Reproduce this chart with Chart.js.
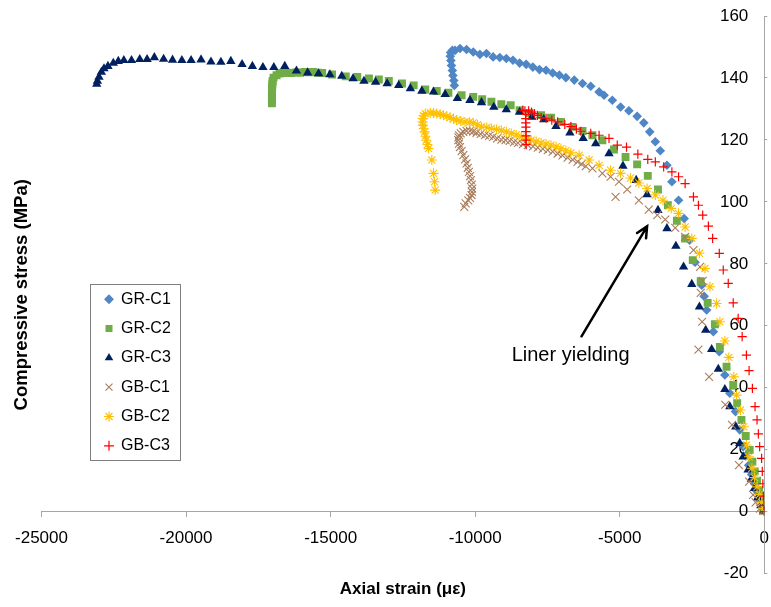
<!DOCTYPE html>
<html>
<head>
<meta charset="utf-8">
<script src="https://cdn.jsdelivr.net/npm/chart.js@4/dist/chart.umd.min.js"></script>
<style>
  html, body { margin: 0; padding: 0; background: #fff; }
  #wrap { width: 771px; height: 607px; }
</style>
</head>
<body>
<div id="wrap"><canvas id="canvas"></canvas></div>
<script>
// series: [axial strain (με), stress (MPa)]
const grC1 = [[-10720,137.6],[-10740,139.2],[-10770,140.8],[-10790,142.4],[-10820,144.0],[-10840,145.6],[-10860,147.0],[-10850,148.2],[-10790,148.9],
  [-10697,148.9],[-10525,149.5],[-10298,149.2],[-10067,148.4],[-9837,147.6],[-9610,147.9],[-9380,146.8],[-9150,146.6],[-8923,146.3],[-8693,145.7],
  [-8463,144.8],[-8236,144.4],[-8006,143.5],[-7776,142.7],[-7549,142.5],[-7319,141.6],[-7088,140.9],[-6862,140.1],[-6573,139.3],[-6288,138.2],
  [-6003,137.3],[-5714,135.5],[-5542,134.4],[-5257,132.8],[-4970,130.6],[-4683,129.4],[-4398,127.6],[-4168,125.5],[-3962,122.6],[-3769,119.4],
  [-3597,116.5],[-3367,111.8],[-3196,106.5],[-2965,100.5],[-2773,94.6],[-2587,87.6],[-2395,80.5],[-2165,73.1],[-2080,69.5],[-1993,65.1],
  [-1763,58.1],[-1557,51.6],[-1364,44.1],[-1192,38.2],[-996,32.3],[-849,26.4],[-732,21.0],[-640,18],[-540,15],[-440,12],[-340,9],[-250,6.5],
  [-160,4],[-80,2],[-20,0.5]];

const grC2 = [[-17030,131.8],[-17030,132.6],[-17030,133.4],[-17030,134.2],[-17030,135.0],[-17030,135.8],[-17025,136.6],[-17020,137.4],[-17015,138.2],
  [-17005,139.0],[-16974,140.1],[-16870,140.9],[-16767,141.4],[-16650,141.6],[-16500,141.7],[-16350,141.6],[-16200,141.8],[-16050,141.7],
  [-15900,141.9],[-15750,141.8],[-15600,141.9],[-15450,141.7],[-15292,141.6],[-14950,141.1],[-14476,140.5],[-14077,140.3],[-13675,139.8],
  [-13332,139.5],[-12988,139.0],[-12531,138.2],[-12129,137.6],[-11727,136.3],[-11329,135.8],[-10926,135.2],[-10470,134.4],[-10067,133.9],
  [-9758,133.1],[-9439,132.3],[-9095,131.5],[-8772,131.2],[-8463,129.6],[-8119,128.7],[-7721,128.0],[-7377,127.2],[-7034,125.8],[-6632,124.2],
  [-6288,122.9],[-5944,121.5],[-5601,119.9],[-5199,116.9],[-4800,114.5],[-4398,112.1],[-4030,108.4],[-3677,104.0],[-3333,98.9],[-3024,93.9],
  [-2738,88.2],[-2474,81.2],[-2199,74.4],[-1959,67.4],[-1708,60.5],[-1536,53.2],[-1306,46.8],[-1075,40.9],[-938,35.0],[-790,29.6],[-643,24.4],
  [-505,19.9],[-412,16.1],[-330,13],[-250,10],[-180,7],[-110,4.5],[-50,2],[-10,0.3]];

const grC3 = [[-23090,138.0],[-23066,139.0],[-23011,140.3],[-22929,141.9],[-22839,143.0],[-22702,143.8],[-22516,144.8],[-22344,145.4],[-22152,145.7],
  [-21887,145.7],[-21602,146.0],[-21348,146.0],[-21097,146.6],[-20777,146.1],[-20468,145.8],[-20145,145.7],[-19826,145.7],[-19482,145.9],
  [-19139,145.2],[-18795,145.1],[-18451,145.4],[-18063,144.4],[-17706,143.8],[-17342,143.4],[-16964,143.4],[-16586,143.8],[-16183,142.3],
  [-15795,141.7],[-15417,141.4],[-15026,141.1],[-14614,140.6],[-14225,139.8],[-13847,139.0],[-13445,138.7],[-13046,138.2],[-12645,137.6],
  [-12242,136.6],[-11844,135.8],[-11442,135.5],[-11040,134.7],[-10617,133.4],[-10181,132.8],[-9782,132.1],[-9356,130.6],[-8923,129.8],
  [-8463,129.0],[-8040,127.4],[-7628,126.6],[-7205,124.4],[-6724,122.3],[-6264,120.5],[-5831,118.8],[-5371,115.6],[-4889,111.6],[-4432,107.0],
  [-4054,102.4],[-3677,97.3],[-3367,91.4],[-3058,85.7],[-2793,79.0],[-2508,73.4],[-2244,66.1],[-2027,58.6],[-1821,52.4],[-1591,46.0],
  [-1364,39.5],[-1192,33.9],[-986,27.4],[-849,22.1],[-732,17.7],[-560,13.5],[-450,10.5],[-340,7.5],[-230,4.5],[-120,2],[-30,0.3]];

const gbC1 = [[-10377,98.4],[-10330,99.5],[-10239,100.5],[-10180,101.3],[-10126,102.2],[-10110,103.2],[-10102,104.3],[-10120,105.6],[-10147,107.0],
  [-10180,108.3],[-10216,109.7],[-10255,111.0],[-10298,112.4],[-10350,113.7],[-10411,115.1],[-10470,116.4],[-10525,117.7],[-10560,118.8],
  [-10583,119.9],[-10580,120.8],[-10559,121.5],[-10500,122.1],[-10411,122.6],[-10300,122.9],[-10181,122.9],[-10070,122.7],[-9954,122.3],
  [-9810,121.9],[-9665,121.5],[-9520,121.3],[-9380,121.0],[-9240,120.5],[-9095,120.1],[-8950,119.9],[-8807,119.7],[-8660,119.3],[-8521,119.0],
  [-8350,118.6],[-8178,118.3],[-8000,117.9],[-7834,117.5],[-7660,117.1],[-7491,116.7],[-7320,116.2],[-7147,115.6],[-6980,115.0],[-6803,114.3],
  [-6630,113.6],[-6460,112.9],[-6320,112.2],[-6175,111.5],[-5944,110.8],[-5601,109.2],[-5316,108.1],[-5027,106.5],[-4742,104.0],[-5144,101.6],
  [-4340,100.5],[-3996,97.5],[-3700,95.7],[-3426,94.3],[-3082,91.6],[-2738,88.7],[-2450,84.4],[-2223,79.0],[-2130,74.5],[-2199,70.6],
  [-2150,61.3],[-2278,52.3],[-1910,43.5],[-1350,34.5],[-1117,28.0],[-876,15.0],[-526,9.7],[-388,5.4],[-300,3],[-150,1],[-40,0.2]];

const gbC2 = [[-11384,103.8],[-11407,106.5],[-11442,109.2],[-11500,113.5],[-11613,117.2],[-11650,118.5],[-11693,119.9],[-11720,121.2],[-11751,122.6],
  [-11780,123.6],[-11809,124.7],[-11820,125.8],[-11809,126.9],[-11790,127.8],[-11727,128.5],[-11555,128.7],[-11440,128.7],[-11329,128.5],
  [-11210,128.3],[-11098,128.0],[-10980,127.6],[-10868,127.2],[-10750,126.8],[-10641,126.4],[-10500,126.1],[-10353,125.8],[-10200,125.7],
  [-10067,125.5],[-9920,124.9],[-9782,124.2],[-9600,124.0],[-9439,123.7],[-9260,123.4],[-9095,123.1],[-8920,122.6],[-8751,122.1],[-8580,121.6],
  [-8408,121.0],[-8240,120.5],[-8064,119.9],[-7890,119.5],[-7721,119.0],[-7550,118.7],[-7377,118.3],[-7200,117.8],[-7034,117.2],[-6860,116.5],
  [-6690,115.8],[-6403,115.1],[-6060,113.5],[-5714,111.8],[-5316,110.2],[-4972,109.2],[-4628,107.7],[-4340,106.1],[-4054,104.3],[-3769,102.2],
  [-3504,100.5],[-3219,97.9],[-2965,96.3],[-2738,91.9],[-2508,88.2],[-2244,83.4],[-2051,78.5],[-1880,72.6],[-1649,67.2],[-1536,61.3],
  [-1364,55.1],[-1227,49.8],[-1055,43.5],[-962,37.6],[-825,32.8],[-711,27.4],[-619,21.5],[-526,17.7],[-430,14],[-340,11],[-250,8],
  [-170,5.5],[-90,3],[-30,1]];

const gbC3 = [[-8240,118.5],[-8240,119.9],[-8240,121.3],[-8245,122.7],[-8245,124.1],[-8250,125.5],[-8250,126.9],[-8255,128.2],[-8280,129.4],
  [-8350,129.6],[-8150,129.4],[-8050,129.0],[-7948,128.5],[-7850,127.9],[-7721,127.2],[-7549,127.0],[-7350,126.4],[-7147,125.8],[-6900,125.0],
  [-6690,124.3],[-6500,123.5],[-6346,122.8],[-6003,122.1],[-5714,121.5],[-5371,120.5],[-5085,118.3],[-4766,117.7],[-4374,115.4],[-4030,113.7],
  [-3769,112.9],[-3481,111.3],[-3196,109.7],[-2965,108.1],[-2738,105.9],[-2450,101.6],[-2278,98.9],[-2130,95.7],[-1934,92.2],[-1787,88.2],
  [-1557,83.4],[-1419,78.0],[-1247,73.7],[-1075,67.4],[-904,62.4],[-766,56.5],[-619,50.5],[-526,45.5],[-412,39.8],[-320,33.9],[-251,29.6],
  [-206,25.1],[-161,21.0],[-93,17.2],[-70,13],[-50,9],[-30,5],[-15,2],[0,0]];

const seriesNames = ['GR-C1', 'GR-C2', 'GR-C3', 'GB-C1', 'GB-C2', 'GB-C3'];
const xTicks = [-25000, -20000, -15000, -10000, -5000, 0];
const yTicks = [-20, 0, 20, 40, 60, 80, 100, 120, 140, 160];

// note on the plot: [x, y] in data units
const noteText = 'Liner yielding';
const noteAt = [-6700, 50.5];
const arrowFrom = [-6322, 56.6];
const arrowTo = [-4054, 92.1];

const FONT = '"Liberation Sans", Arial, sans-serif';
const AXIS = '#a6a6a6';

function pts(arr) { return arr.map(p => ({x: p[0], y: p[1]})); }

function mkSet(i, data, style, color, radius, bw, fill) {
  return {
    label: seriesNames[i],
    data: pts(data),
    showLine: false,
    pointStyle: style,
    pointRadius: radius,
    pointHoverRadius: radius,
    pointBorderWidth: bw,
    pointBorderColor: color,
    pointBackgroundColor: fill ? color : 'rgba(0,0,0,0)',
    borderColor: color,
    backgroundColor: fill ? color : 'rgba(0,0,0,0)',
    order: 6 - i
  };
}

const datasets = [
  mkSet(0, grC1, 'rectRot', '#4f86c6', 4.8, 0, true),
  mkSet(1, grC2, 'rect', '#70ad47', 5.6, 0, true),
  mkSet(2, grC3, 'triangle', '#002060', 5.4, 0, true),
  mkSet(3, gbC1, 'crossRot', '#a97c5a', 5.6, 1.1, false),
  mkSet(4, gbC2, 'star', '#ffc000', 5, 1.1, false),
  mkSet(5, gbC3, 'cross', '#ff0000', 4.6, 1.2, false)
];

// legend sits inside the plot, with a frame round it
const legendPlace = {
  id: 'legendPlace',
  afterLayout(chart) {
    const lg = chart.legend;
    if (!lg) return;
    lg.left = 91.7; lg.right = 181;
    lg.top = 278; lg.bottom = 600;
    lg.width = lg.right - lg.left; lg.height = lg.bottom - lg.top;
  },
  afterDraw(chart) {
    const ctx = chart.ctx;
    ctx.save();
    ctx.strokeStyle = '#7f7f7f';
    ctx.lineWidth = 1;
    ctx.strokeRect(90.5, 284.5, 90, 176);
    ctx.restore();
  }
};

const note = {
  id: 'note',
  afterDraw(chart) {
    const xs = chart.scales.x, ys = chart.scales.y, ctx = chart.ctx;
    const x1 = xs.getPixelForValue(arrowFrom[0]), y1 = ys.getPixelForValue(arrowFrom[1]);
    const x2 = xs.getPixelForValue(arrowTo[0]), y2 = ys.getPixelForValue(arrowTo[1]);
    const a = Math.atan2(y2 - y1, x2 - x1);
    ctx.save();
    ctx.strokeStyle = '#000';
    ctx.lineWidth = 2.5;
    ctx.lineCap = 'round';
    ctx.beginPath();
    ctx.moveTo(x1, y1); ctx.lineTo(x2, y2);
    ctx.moveTo(x2 - 12 * Math.cos(a - 0.45), y2 - 12 * Math.sin(a - 0.45));
    ctx.lineTo(x2, y2);
    ctx.lineTo(x2 - 12 * Math.cos(a + 0.45), y2 - 12 * Math.sin(a + 0.45));
    ctx.stroke();
    ctx.fillStyle = '#000';
    ctx.font = '20px ' + FONT;
    ctx.textAlign = 'center';
    ctx.textBaseline = 'middle';
    ctx.fillText(noteText, xs.getPixelForValue(noteAt[0]), ys.getPixelForValue(noteAt[1]));
    ctx.restore();
  }
};

new Chart(document.getElementById('canvas'), {
  type: 'scatter',
  data: { datasets: datasets },
  plugins: [legendPlace, note],
  options: {
    responsive: true,
    maintainAspectRatio: false,
    animation: false,
    layout: { padding: { top: 16, right: 0, bottom: 0, left: 0 } },
    plugins: {
      tooltip: { enabled: false },
      legend: {
        position: 'chartArea',
        align: 'start',
        labels: {
          usePointStyle: true,
          boxWidth: 8,
          boxHeight: 7,
          padding: 13.3,
          color: '#000',
          font: { family: FONT, size: 16 },
          sort: (a, b) => a.datasetIndex - b.datasetIndex
        }
      }
    },
    scales: {
      x: {
        type: 'linear',
        position: { y: 0 },
        min: -25000, max: 0,
        afterBuildTicks: s => { s.ticks = xTicks.map(v => ({value: v})); },
        afterFit: s => { s.paddingLeft = 0; s.paddingRight = 0; },
        ticks: { color: '#000', font: { family: FONT, size: 17 }, padding: 11, maxRotation: 0, autoSkip: false,
                 callback: v => String(v) },
        grid: { drawOnChartArea: false, tickLength: 5, color: AXIS },
        border: { color: AXIS }
      },
      xTitle: {
        type: 'linear',
        position: 'bottom',
        min: -25000, max: 0,
        ticks: { display: false },
        grid: { display: false, drawTicks: false },
        border: { display: false },
        title: { display: true, text: 'Axial strain (με)', color: '#000',
                 font: { family: FONT, size: 17, weight: 'bold' }, padding: { top: 6, bottom: 7 } }
      },
      y: {
        type: 'linear',
        position: 'right',
        min: -20, max: 160,
        afterBuildTicks: s => { s.ticks = yTicks.map(v => ({value: v})); },
        ticks: { mirror: true, padding: -16, color: '#000', font: { family: FONT, size: 17 },
                 callback: v => String(v) },
        grid: { drawOnChartArea: false, tickLength: 3, color: AXIS },
        border: { color: AXIS }
      },
      yTitle: {
        type: 'linear',
        position: 'left',
        min: -20, max: 160,
        ticks: { display: false },
        grid: { display: false, drawTicks: false },
        border: { display: false },
        title: { display: true, text: 'Compressive stress (MPa)', color: '#000',
                 font: { family: FONT, size: 18.5, weight: 'bold' }, padding: { top: 10.9, bottom: 8.4 } }
      }
    }
  }
});
</script>
</body>
</html>
